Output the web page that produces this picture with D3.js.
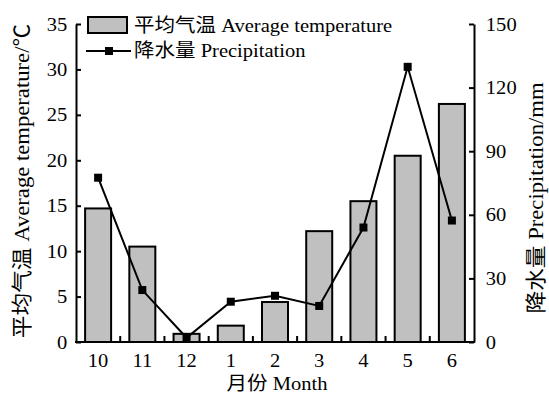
<!DOCTYPE html>
<html><head><meta charset="utf-8">
<script src="https://cdn.jsdelivr.net/npm/d3@7"></script>
<style>body{margin:0;background:#fff}svg{display:block}</style>
</head><body>
<script>
const months = ["10","11","12","1","2","3","4","5","6"];
const temperature = [14.7, 10.5, 0.9, 1.8, 4.4, 12.2, 15.5, 20.5, 26.2];
const precipitation = [77.5, 24.5, 2, 19, 21.8, 17, 54, 129.8, 57.3];
const tempTicks = [0,5,10,15,20,25,30,35];
const precTicks = [0,30,60,90,120,150];

const W=549,H=393;
const L=76,R=474,T=24,B=342;
const FS="19px", SX=1.08;
const font='"Liberation Serif","Times New Roman","Noto Sans CJK SC",serif';
const svg=d3.select("body").append("svg").attr("width",W).attr("height",H)
  .style("font-family",font);

const x=d3.scaleBand().domain(months).range([L,R]).paddingInner(0).paddingOuter(0);
const yL=d3.scaleLinear().domain([0,35]).range([B,T]);
const yR=d3.scaleLinear().domain([0,150]).range([B,T]);

const bw=28;
svg.append("g").selectAll("rect").data(temperature).join("rect")
  .attr("x",(d,i)=>x(months[i])+x.bandwidth()/2-bw/2+1)
  .attr("width",bw-2)
  .attr("y",d=>yL(d))
  .attr("height",d=>B-yL(d))
  .attr("fill","#c0c0c0").attr("stroke","#000").attr("stroke-width",2);

// axes
const gl=svg.append("g").attr("transform",`translate(${L},0)`)
  .call(d3.axisLeft(yL).tickValues(tempTicks).tickSizeInner(-5).tickSizeOuter(0).tickPadding(8));
const gr=svg.append("g").attr("transform",`translate(${R},0)`)
  .call(d3.axisRight(yR).tickValues(precTicks).tickSizeInner(-5).tickSizeOuter(0).tickPadding(11));
const gb=svg.append("g").attr("transform",`translate(0,${B})`)
  .call(d3.axisBottom(x).tickSize(0).tickPadding(12));
[gl,gr,gb].forEach(g=>{
  g.selectAll("path").attr("stroke","#000").attr("stroke-width",2);
  g.selectAll("line").attr("stroke","#000").attr("stroke-width",2);
  g.selectAll("text").attr("fill","#000").style("font-family",font).style("font-size",FS)
    .attr("transform",`scale(${SX},1)`);
});
gb.select("path").attr("d",`M${L-1},0H${R+1}`);
// minor ticks at band boundaries
svg.append("g").selectAll("line").data(months.slice(1)).join("line")
  .attr("x1",d=>x(d)).attr("x2",d=>x(d)).attr("y1",B).attr("y2",B-6)
  .attr("stroke","#000").attr("stroke-width",2);

// precipitation line
const line=d3.line().x((d,i)=>x(months[i])+x.bandwidth()/2).y(d=>yR(d));
svg.append("path").datum(precipitation).attr("d",line)
  .attr("fill","none").attr("stroke","#000").attr("stroke-width",2);
svg.append("g").selectAll("rect").data(precipitation).join("rect")
  .attr("x",(d,i)=>x(months[i])+x.bandwidth()/2-4).attr("y",d=>yR(d)-4)
  .attr("width",8).attr("height",8).attr("fill","#000");

function label(tx,ty,rot,anchor,str,fs){
  svg.append("text").attr("transform",`translate(${tx},${ty}) rotate(${rot}) scale(${SX},1)`)
    .attr("text-anchor",anchor).attr("fill","#000").style("font-size",fs||FS).text(str);
}
// titles
label(29,181,-90,"middle","平均气温 Average temperature/℃","21px");
label(543,198,-90,"middle","降水量 Precipitation/mm","21px");
label(277,390,0,"middle","月份 Month");

// legend
svg.append("rect").attr("x",88).attr("y",17).attr("width",39).attr("height",16)
  .attr("fill","#c0c0c0").attr("stroke","#000").attr("stroke-width",2);
label(134,32,0,"start","平均气温 Average temperature");
svg.append("line").attr("x1",86).attr("x2",131).attr("y1",51).attr("y2",51).attr("stroke","#000").attr("stroke-width",2);
svg.append("rect").attr("x",105).attr("y",47).attr("width",8).attr("height",8).attr("fill","#000");
label(134,57,0,"start","降水量 Precipitation");
</script>
</body></html>
